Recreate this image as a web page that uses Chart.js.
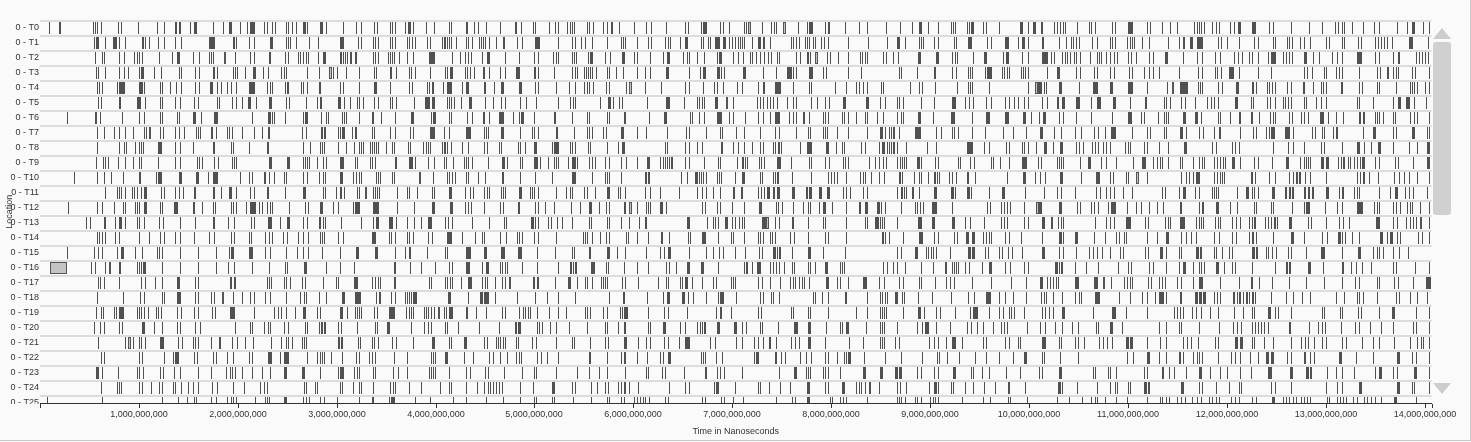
<!DOCTYPE html>
<html><head><meta charset="utf-8">
<script src="https://cdn.jsdelivr.net/npm/chart.js@4.4.1/dist/chart.umd.min.js"></script>
<style>
html,body{margin:0;padding:0;background:#fafafa;}
#wrap{position:relative;width:1471px;height:442px;overflow:hidden;background:#fafafa;}
#c{position:absolute;left:0;top:0;}
#frame{position:absolute;left:0;top:0;width:1470px;height:440px;border-right:1px solid #c8c8c8;border-bottom:1px solid #c8c8c8;pointer-events:none;}
.up{position:absolute;left:1433px;top:28px;width:0;height:0;border-left:9px solid transparent;border-right:9px solid transparent;border-bottom:11px solid #cdcdcd;}
.thumb{position:absolute;left:1433px;top:42px;width:18px;height:173px;background:#d0d0d0;border-radius:3px;}
.down{position:absolute;left:1433px;top:383px;width:0;height:0;border-left:9px solid transparent;border-right:9px solid transparent;border-top:11px solid #cdcdcd;}
</style></head>
<body>
<div id="wrap">
<canvas id="c" width="1471" height="442"></canvas>
<div class="up"></div><div class="thumb"></div><div class="down"></div>
<div id="frame"></div>
</div>
<script>
// ---- data (times in units of 1e7 ns; plain number = short event, [start, length] = longer event)
const UNIT_NS = 1e7;
const SHORT_LEN = 1;
const X_MAX = 14.07e9;
const xTickValues = [0,1e9,2e9,3e9,4e9,5e9,6e9,7e9,8e9,9e9,10e9,11e9,12e9,13e9,14e9];
const locations = ['0 - T0','0 - T1','0 - T2','0 - T3','0 - T4','0 - T5','0 - T6','0 - T7','0 - T8','0 - T9','0 - T10','0 - T11','0 - T12','0 - T13','0 - T14','0 - T15','0 - T16','0 - T17','0 - T18','0 - T19','0 - T20','0 - T21','0 - T22','0 - T23','0 - T24','0 - T25'];

const T0 = [9,19,20,54,56,58,62,79,82,99,118,125,[137,2],[141,2],152,[156,3],175,185,[191,3],202,209,[212,5],226,230,235,238,249,251,255,259,[266,3],270,
[283,3],289,306,320,325,338,341,354,356,359,369,[372,3],377,390,398,414,416,[431,2],439,443,451,465,[480,2],486,498,501,515,521,524,533,536,538,540,553,555,559,
569,573,[577,2],585,601,613,618,633,652,655,668,[670,4],688,691,697,712,714,730,739,742,744,766,776,[778,4],794,[797,2],814,828,836,
855,870,882,[889,3],898,908,921,923,925,937,939,[941,3],953,957,970,[991,3],999,[1004,3],[1012,2],1025,1028,1031,1034,1036,1049,1061,1063,1067,1084,1087,[1100,5],1119,1122,
1135,1143,1150,1167,1170,1172,1174,1177,1185,1189,1192,1203,1207,[1211,3],[1226,4],1243,1247,1265,1283,1296,1309,1312,1317,1319,1327,1338,1349,1354,1372,1382,[1387,3],1398,1404];
const T1 = [55,[57,3],66,[74,4],80,86,103,104,106,110,119,125,137,143,[171,6],[195,2],198,211,216,[233,3],249,251,253,259,272,281,
[303,4],322,325,337,339,342,354,356,359,371,373,376,379,391,394,406,408,410,412,414,416,421,431,433,437,444,446,448,450,454,461,[468,2],482,487,[501,5],524,538,541,547,551,558,
573,587,589,592,604,615,618,632,635,637,647,[652,3],668,670,675,677,[683,5],[691,3],697,700,703,706,708,710,712,720,[726,3],731,732,738,759,761,764,767,774,776,778,782,784,790,793,797,817,837,
856,[867,3],875,889,891,893,904,908,924,926,[938,4],958,962,[976,4],989,[993,3],999,[1013,2],1030,1037,1042,1045,1048,1051,1064,1069,1082,1084,1087,1099,1102,1104,1106,1114,1121,
1141,1152,[1156,2],[1163,3],[1170,6],1191,1194,1200,1212,1228,1232,1247,1249,1261,1263,1266,1274,1278,1284,1300,1303,1316,1319,1333,1336,1350,1353,1356,1359,1362,1367,[1384,4],1403];
const T2 = [56,63,65,80,85,95,98,100,103,120,133,[139,3],155,161,171,173,175,197,212,216,[232,2],248,251,261,263,266,269,271,281,
[286,3],303,304,306,308,310,[313,2],[319,2],337,339,342,352,354,356,358,363,371,377,[393,6],417,425,430,433,436,447,[452,3],470,484,500,504,519,522,524,538,540,542,554,[556,3],
571,576,[588,4],601,604,617,630,[634,3],650,654,656,664,671,685,[687,3],701,706,711,718,720,724,728,732,736,739,745,747,764,768,776,777,779,796,799,807,817,829,831,834,836,
852,855,862,868,[888,3],[906,3],922,925,927,943,[955,3],974,[977,3],993,999,[1013,6],1022,1025,1033,1036,1038,1041,1046,1048,1052,1062,1069,1071,1073,1078,1082,1086,1089,1100,1103,1108,1121,1125,
[1138,3],1156,1170,1175,1188,1193,1207,1211,1215,1222,1225,1232,1242,[1245,5],1257,1260,1263,1266,[1278,3],1287,1293,1306,1311,1316,[1332,5],1350,1354,1368,[1373,2],1391,1394,1397,1400,1403];
const T3 = [57,59,66,80,85,89,100,[102,3],115,122,141,143,157,161,[175,2],179,195,197,199,207,[215,3],225,231,244,247,249,270,282,
296,300,309,323,338,340,[354,2],360,373,375,379,394,410,412,[415,3],430,432,435,439,[448,2],454,465,470,[481,4],499,501,504,520,538,541,543,550,552,554,556,558,562,
573,575,582,[589,2],604,612,617,[633,3],656,667,[670,3],[685,3],689,692,[711,3],731,744,[755,5],761,764,[778,4],792,795,817,830,
869,871,887,[904,2],922,926,938,940,942,956,[958,5],973,975,978,980,992,994,996,999,1018,[1028,3],1048,1052,1066,1069,1082,1086,1101,1104,1116,1121,1125,1131,
1152,1171,1175,1188,1190,1194,[1202,5],1212,1232,1245,1278,1281,1286,1298,1300,1310,1313,1316,1334,1352,1355,[1362,2],1368,1371,1373,1387,1390,1404];
const T4 = [58,60,63,78,[80,6],[100,4],105,121,123,131,138,143,157,161,[172,3],179,183,189,193,198,[211,6],230,233,235,248,250,251,264,266,270,282,
283,303,306,323,[338,3],354,373,376,391,393,[396,2],407,[412,5],427,[431,3],[449,2],459,[466,3],[484,3],501,504,522,535,541,550,553,555,559,
572,575,593,612,628,652,656,670,682,685,691,705,710,726,[731,2],[743,6],761,778,780,804,815,825,828,832,836,
850,852,880,889,892,905,927,938,940,942,960,999,[1009,4],1015,1017,[1030,3],1051,[1065,5],[1082,3],[1100,5],1119,
1140,[1153,8],1171,1173,1175,1191,1195,[1209,3],1225,1227,1230,1241,1243,1246,1249,1261,1265,[1277,2],1287,1295,1297,1300,[1315,3],1334,1337,1352,1354,1371,1385,1387,1389,1392,1400,1404];
const T5 = [59,62,80,81,[98,4],106,121,123,137,142,156,160,179,181,194,198,204,[210,3],218,[232,3],249,252,269,280,
[283,2],[301,3],307,313,321,323,327,338,342,354,356,360,378,[389,5],[396,3],412,414,416,419,426,[434,3],450,458,466,470,485,491,502,524,536,539,541,
566,[574,3],579,585,588,614,[633,4],651,664,666,669,671,[683,3],701,725,728,731,735,738,741,745,755,761,764,780,786,794,798,[812,3],[835,3],
849,854,867,869,873,891,904,[922,4],935,939,943,957,962,976,980,985,989,995,999,1013,1018,[1028,2],[1033,3],[1048,4],1063,[1069,4],[1085,3],1102,[1117,2],
1137,1139,1143,1154,1158,1168,1180,1184,1187,1191,[1208,3],1224,1227,1241,1244,1249,1257,1259,1262,1265,1278,1280,1290,1295,1300,1332,1334,1348,1368,[1373,3],[1381,4],1389,1401];
const T6 = [27,56,57,61,83,100,105,121,123,139,141,[155,3],163,[176,4],214,[231,3],235,237,248,266,[268,3],
284,289,291,305,307,309,323,[336,2],345,359,[375,3],395,[397,3],414,416,432,437,[448,2],454,[464,5],478,484,[486,3],499,[520,2],538,553,555,
573,575,590,592,616,[631,3],657,659,666,671,[685,5],697,701,713,726,731,738,[743,5],757,761,764,[772,2],778,792,794,797,811,813,817,825,834,836,846,
852,867,871,873,[888,3],903,[921,4],942,[957,4],[976,4],[994,3],1002,1010,[1014,3],1030,1034,1048,1063,1084,[1100,4],1113,1116,1130,
1137,1139,1141,[1156,3],[1168,3],1174,1191,1193,1203,[1212,2],[1224,3],1233,1244,1247,1249,1263,1266,1275,1278,1282,[1294,4],1302,1310,1318,[1334,2],[1338,2],1350,1352,1354,1358,1368,1370,1385,1389,1392,1404];
const T7 = [58,65,75,80,86,94,105,107,121,124,137,141,146,158,160,162,[173,2],178,189,191,194,204,216,224,[231,2],265,269,
[284,2],[287,2],301,303,[305,3],315,[319,2],336,338,354,359,374,377,[394,5],409,414,[431,5],449,451,453,[466,3],485,497,499,504,[522,2],540,553,555,558,
569,572,[587,3],604,613,634,653,656,673,688,690,704,712,728,743,747,764,777,779,792,794,796,806,817,836,
[849,3],854,858,860,862,864,869,[885,6],906,911,922,924,928,942,956,974,984,997,[1011,3],1025,1032,1047,1053,1066,1070,1077,[1083,5],1104,1119,1122,
1137,1139,[1153,3],1159,1172,1176,1187,[1192,2],1213,1227,1230,1240,1243,[1245,4],[1259,5],1267,1286,1289,1296,1298,1307,[1310,2],1338,[1348,3],1368,1371,[1387,3],1402,1404];
const T8 = [58,80,85,87,96,100,102,104,[119,4],137,142,155,[175,2],193,195,211,[230,2],266,273,
283,285,287,301,309,317,323,325,327,334,336,338,340,342,350,356,358,372,374,387,390,392,394,406,408,410,412,416,427,433,449,452,464,466,483,485,490,499,[501,2],518,[520,5],536,538,541,554,556,
573,584,[588,4],632,634,652,656,664,669,[689,2],701,706,712,720,728,731,741,743,[746,2],749,768,[776,5],[795,3],805,811,813,830,834,848,
[851,3],856,858,860,862,864,867,876,897,906,[937,6],955,960,977,980,993,995,999,1007,[1015,3],1024,[1031,3],1048,1051,1055,1064,1067,1070,1075,1078,1082,1097,1100,1102,1116,1119,1131,
1141,[1157,3],1185,1189,1205,1208,1212,1247,1262,1267,1278,1295,1298,1317,[1332,3],1339,1346,[1353,3],1368,1384,1392,[1402,3]];
const T9 = [57,64,66,69,79,86,94,100,102,119,137,142,159,161,164,176,180,194,196,198,[232,3],[250,3],266,268,270,272,280,
286,289,[303,4],319,321,334,336,339,359,360,[373,4],379,392,398,408,411,418,429,431,433,437,453,[467,3],472,485,487,[499,5],506,514,520,522,524,534,[538,4],543,555,558,561,
571,575,587,593,604,[614,3],627,630,632,634,636,[638,2],652,656,671,686,688,705,[710,2],713,715,727,729,732,[745,4],759,778,780,794,798,812,814,817,838,844,848,
852,855,867,870,872,874,876,[887,3],891,905,908,928,930,940,944,962,964,971,980,[993,5],1009,1012,1028,1030,1032,1034,1052,[1060,3],1073,1078,1088,1105,[1114,4],1125,1129,
1132,1135,1141,1153,1155,1166,1172,1175,1177,1187,1190,1193,1196,1198,[1205,3],1213,1228,1232,1246,[1260,3],1274,1278,1280,1282,1284,[1295,3],[1300,3],1312,1315,1318,1319,1323,1325,1329,1332,1335,[1337,3],1350,1354,1370,1373,1388,[1402,3]];
const T10 = [34,58,65,72,84,[100,2],117,[119,4],[141,3],[158,3],170,[175,5],202,211,214,226,228,232,237,247,249,266,270,282,
286,288,[303,3],316,320,323,325,340,342,344,356,358,397,412,414,417,420,431,433,443,450,[467,2],485,501,518,[538,4],558,
571,573,575,587,[612,2],[615,2],648,654,[662,2],664,666,668,670,673,685,687,689,703,[710,3],728,730,741,743,[745,2],760,780,797,800,803,806,815,829,832,834,840,848,
853,[869,2],872,884,889,891,898,[904,2],907,909,919,922,926,[937,2],945,978,[994,3],1006,1011,1016,[1031,3],1053,[1068,4],1082,1085,1098,1100,1119,
1154,1159,1162,1166,[1169,4],1187,1190,1193,1195,1197,1224,1226,1229,1243,1249,1263,1267,[1270,2],[1273,2],1279,1284,1300,1332,1335,1338,1339,1344,1353,1369,1374,1379,1384,1392,1404];
const T11 = [66,78,80,82,86,93,95,98,102,[105,3],122,125,137,141,145,[156,2],[175,2],183,[191,3],198,212,216,[230,2],248,[266,3],
286,288,299,303,304,307,321,323,337,339,341,343,361,371,373,381,396,398,[414,3],430,435,438,449,452,454,466,468,470,[484,3],495,497,499,504,522,532,536,538,550,553,561,
[573,3],584,586,592,612,617,627,646,664,669,673,681,688,[701,2],[709,2],726,729,732,[735,3],[741,2],[745,3],[760,3],[775,2],[778,3],[788,3],[796,3],812,815,819,832,836,
867,[871,2],874,876,[882,2],889,[904,3],[921,3],925,[937,3],941,960,[973,3],996,1015,1028,1032,1047,1068,1072,1078,1082,1086,1095,1104,
1134,1138,1152,[1156,3],1168,1172,1185,1187,1189,1191,1210,[1219,3],1225,1228,1232,[1246,3],[1259,2],[1263,2],[1266,2],[1278,2],[1282,2],[1286,2],[1300,3],1313,[1317,2],1329,1332,1334,1354,1365,[1370,3],1380,1384,1388,1402];
const T12 = [28,58,63,75,84,86,96,98,100,[105,3],121,123,[135,5],[155,2],164,175,177,193,195,198,208,[212,6],221,224,230,233,235,252,268,271,
[283,3],296,301,316,[319,5],[337,6],361,378,[396,3],[415,3],430,433,436,449,465,468,[483,2],501,504,511,520,537,546,[555,3],565,
572,575,590,592,604,613,615,617,[627,3],633,669,672,685,688,700,712,[727,3],744,746,750,761,772,777,779,788,[792,3],801,815,[828,2],[834,3],[846,3],
850,854,871,885,887,890,893,[902,5],922,958,961,972,975,978,981,995,[1010,3],[1030,3],1049,1052,1063,1066,1070,1080,[1083,5],1099,1108,1113,1121,1129,
1136,[1153,2],1172,[1175,2],[1189,3],1203,1210,1228,1230,1245,1247,1266,1278,[1280,4],1299,1311,1317,[1332,6],1349,1352,1354,1368,1371,1375,1382,1385,1387,1395,1404];
const T13 = [47,51,[65,2],76,[80,3],86,98,100,105,120,124,142,157,[175,2],190,196,213,216,[231,4],243,[250,3],266,270,282,
283,286,288,304,325,337,[340,3],[353,4],360,371,378,385,[392,4],410,413,417,437,454,469,471,[496,3],501,504,514,517,523,528,538,555,557,
573,575,587,596,606,[612,2],[654,3],674,680,683,686,[693,3],700,703,707,710,712,[730,4],743,747,[760,2],777,792,794,815,834,836,[844,4],
849,851,853,867,[888,4],[902,3],[922,3],935,940,955,972,975,978,995,999,[1013,3],1029,1032,1034,1067,1078,1082,1086,[1098,5],1117,1120,
1138,1141,1143,[1153,5],1169,1172,1174,1176,1188,1191,1193,1205,1209,1213,1222,1225,[1228,2],1239,1242,1245,[1248,2],1251,[1263,3],1282,1285,1300,1313,1318,1324,[1351,4],1368,1372,1381,1385,1388,1391,1404];
const T14 = [58,60,63,66,76,80,100,110,121,125,137,142,156,171,176,193,196,211,213,228,232,235,246,250,261,266,271,
283,285,287,301,306,[336,4],353,355,359,371,373,377,392,396,[412,5],427,440,447,449,465,471,482,484,487,500,504,522,549,551,553,558,
566,572,575,593,595,604,615,[628,2],636,655,657,[669,4],686,699,701,712,726,728,731,738,740,743,758,762,777,794,797,815,
[851,2],854,858,873,[889,4],904,908,924,927,[936,3],[942,3],954,957,960,962,976,980,992,1013,[1030,3],1034,[1047,3],1066,1077,1088,1091,1096,1098,1119,1129,
[1139,3],1154,1159,1164,1169,1187,1192,1205,1209,1222,1225,1227,1230,1247,[1265,3],1278,1296,1301,[1312,3],1317,1320,1327,1334,[1355,3],1362,[1365,3],1372,1375,1393,1397,1404];
const T15 = [27,55,59,63,78,[82,3],96,103,118,120,123,142,160,178,191,[193,3],[211,4],228,233,249,260,266,271,
285,303,[320,3],[339,3],359,369,[373,2],391,410,412,[431,5],[449,3],[466,4],[483,4],503,521,538,540,[555,2],
[573,3],583,592,613,627,631,[635,3],656,673,681,687,691,703,713,727,730,[741,3],745,[747,2],760,[777,3],792,814,
867,871,[885,3],896,898,901,903,906,920,[938,3],[942,3],956,959,970,973,979,983,993,[1013,3],1030,1034,1048,1061,1065,1069,1074,1082,1092,1095,1117,1120,
[1132,4],1139,1152,1154,[1169,3],[1173,2],1187,1189,1195,1202,1205,[1225,4],[1230,2],1240,1242,1246,1250,1262,1265,1280,[1295,4],1317,[1333,3],1348,1352,1354,1358,1368,1374,1383];
const T16 = [52,56,66,[80,2],98,100,102,[104,3],123,142,160,178,190,196,214,232,248,250,[267,3],
289,303,317,[358,2],374,385,399,414,417,[431,4],447,[451,3],465,467,470,472,487,503,524,[536,2],539,[541,2],[557,4],
572,574,590,604,615,633,636,643,[654,3],[668,3],686,712,[714,2],720,725,[726,3],738,741,744,747,752,760,762,777,779,784,[794,3],809,811,813,
852,856,863,867,875,891,903,[915,2],922,924,926,928,935,939,952,[960,3],976,981,995,999,[1026,3],1030,[1032,2],1047,1058,1070,1090,1100,1103,1121,1125,
1139,1152,[1156,3],1166,1172,1174,1177,[1189,3],1197,1205,1208,1226,1249,[1260,2],[1263,2],[1282,3],1297,[1316,3],1326,1331,1337,1346,1368,1371,1390,1404];
const T17 = [59,61,65,80,102,106,116,123,[139,3],157,160,[192,2],[196,2],230,232,234,247,249,253,265,268,
286,299,301,[318,4],336,339,342,344,[358,2],393,395,410,412,415,417,426,[433,4],447,450,452,460,467,470,498,500,[503,2],521,[534,3],543,551,553,558,
567,569,571,573,588,592,605,625,633,635,647,649,[652,3],659,669,681,684,699,701,703,726,730,738,748,758,761,763,767,770,773,778,[795,3],806,809,817,[832,4],848,
853,869,873,889,891,905,916,920,924,942,962,982,997,[1011,3],1018,1021,1024,1027,1029,[1047,4],[1066,4],1083,1096,1099,1102,1104,1120,1123,1131,
1135,1138,1150,1154,1166,[1172,4],1193,1212,[1224,3],1233,1246,1263,1280,1298,1317,1330,1334,1352,1354,1369,1373,1388,[1401,5]];
const T18 = [58,84,101,105,123,125,[139,4],157,160,173,176,195,204,212,216,228,233,249,263,267,269,282,
289,[305,3],[319,6],340,[343,2],355,359,369,371,373,375,[377,4],[413,3],433,[445,3],[449,5],460,482,501,513,524,541,
575,[589,3],614,630,[634,3],[649,3],655,660,673,686,[688,4],704,728,731,739,741,747,782,784,791,797,[814,2],836,
849,851,854,856,[865,3],872,874,888,902,921,938,944,[957,5],970,976,984,997,1012,1015,1017,1024,1033,1047,1051,1053,[1067,5],1091,1102,1114,1119,1127,1131,
[1132,2],[1135,2],1139,[1153,2],[1168,3],[1172,3],[1176,3],1187,1190,1193,[1206,2],1210,[1212,2],1216,[1219,2],1222,[1225,3],1229,1245,1260,1267,1276,1284,1310,1319,1332,1334,1338,1352,1371,1374,1385,1392,1402];
const T19 = [57,62,64,75,77,[80,5],98,100,102,105,109,117,119,122,139,143,156,160,174,177,[192,5],216,237,241,244,249,258,[266,3],280,
283,[303,3],310,319,321,323,325,338,341,[353,6],370,373,375,377,388,390,392,395,398,409,411,[414,4],[431,2],441,451,467,470,484,488,490,493,495,503,515,524,532,551,553,556,
569,573,586,588,[590,5],615,631,635,654,684,[688,2],699,726,729,759,761,777,779,797,825,836,
849,851,853,855,873,[888,3],894,906,910,925,940,[943,5],960,970,974,980,982,985,995,1013,1016,1020,1024,[1033,3],1065,[1084,4],1098,1119,
1147,1150,1153,1156,1165,1169,1174,1183,1191,1207,1216,1225,1228,[1242,3],1249,1252,1265,1296,1298,1314,1317,1333,1336,1354,[1367,3],1391,1404];
const T20 = [55,61,65,80,83,[103,3],115,123,139,142,157,162,197,212,214,226,231,233,247,251,268,270,282,
[284,2],[287,2],301,304,321,339,341,[351,3],375,388,392,395,410,412,423,444,464,[480,2],[483,3],503,505,508,516,522,535,553,
571,573,584,[590,3],615,617,[630,3],647,652,664,667,669,[671,2],[685,3],[702,3],710,714,728,730,746,[762,4],[777,3],795,809,811,[815,3],835,
849,851,853,867,887,892,[895,4],906,920,937,941,947,954,964,972,975,978,998,1011,1016,1026,1033,1043,1050,1068,1070,[1082,3],1094,1131,
1139,1152,1154,1172,1192,1206,1210,1214,1226,1229,1232,1235,1238,1242,[1263,2],1283,1292,1296,1299,1315,1330,1334,1345,1356,1368,1388,1391,1404];
const T21 = [59,86,94,100,102,106,[121,4],140,144,155,157,160,173,181,182,194,199,207,215,234,244,249,251,255,265,267,269,
[301,2],[304,2],322,324,336,338,342,356,360,377,[396,3],414,416,[429,3],449,452,461,463,465,468,470,481,483,497,502,522,538,540,556,
571,574,[591,3],605,613,617,631,635,646,[652,5],677,683,704,710,722,726,731,[737,2],744,759,763,767,[777,3],794,818,832,
849,851,853,865,869,899,904,908,916,[922,4],932,954,957,976,980,989,991,[1013,4],1030,1032,1047,1050,1056,1071,1075,1079,1084,[1098,3],[1102,3],1119,
1132,1139,1156,1160,1164,1171,1188,1191,[1208,3],[1213,3],1226,1228,1238,1247,1265,1275,1279,1282,1288,1296,1300,1317,1321,1337,1348,1354,1369,1385,1392,1396,1398,1404];
const T22 = [62,65,100,103,125,134,[137,4],156,159,175,178,189,195,211,214,[231,4],243,[247,5],270,280,
283,285,287,294,305,320,323,333,336,339,358,371,395,397,399,[410,3],429,438,454,458,465,472,481,484,486,503,507,513,524,[555,2],
573,587,[590,3],604,614,627,630,[635,3],668,670,672,684,690,722,[724,3],[743,2],749,753,768,775,780,794,797,806,813,815,[817,3],833,
854,871,892,907,909,917,929,945,957,970,984,[995,3],1013,1015,1031,1050,1099,1105,[1119,3],1131,
1139,[1152,2],1156,1166,1170,1172,1175,1191,1204,1208,1213,1223,1232,[1240,3],[1245,3],1261,1265,[1278,2],1284,1288,[1313,3],1331,1348,[1372,3],1387,1391,1404];
const T23 = [[57,3],63,79,98,100,104,121,124,135,142,160,173,188,192,194,197,204,214,224,233,[247,3],[265,3],
283,301,[303,4],318,321,323,337,339,357,362,371,393,395,397,399,414,431,435,450,453,469,487,500,502,522,543,555,565,
573,592,613,615,629,632,651,[672,2],685,688,692,710,747,[762,3],775,777,779,792,794,797,809,[832,3],
[849,3],[865,3],[869,3],887,891,904,908,[923,3],941,943,952,960,977,991,1010,1013,[1030,3],1065,1067,1080,1082,1088,1116,1119,
[1134,3],1142,1147,1159,[1172,3],1183,1193,1200,1213,1224,[1242,4],[1264,3],[1280,3],[1284,2],1301,1310,1317,1329,1350,[1354,3],1368,1372,[1389,3],1404];
const T24 = [62,78,80,82,100,103,112,120,123,134,137,143,150,155,160,174,179,195,206,222,227,230,267,269,278,280,
303,305,316,323,325,337,354,357,359,373,385,404,414,416,431,442,449,453,455,458,461,464,467,485,498,[518,3],538,541,557,563,
571,574,584,587,590,592,596,605,636,652,656,682,[684,3],703,726,728,737,748,758,[776,3],794,797,[811,3],825,828,830,834,[838,2],848,
867,870,876,899,[904,3],908,921,923,935,943,955,966,[979,2],996,[1029,3],1033,1049,1069,1082,1087,1089,1100,1102,[1116,3],[1120,2],
[1154,3],1172,1175,1189,1202,1212,1214,1245,1249,1265,1300,1311,1317,[1334,3],[1372,3],1387,1389,1404];
const T25 = [7,63,123,140,149,156,158,173,178,189,193,195,198,217,228,230,232,[247,3],266,269,272,
283,287,300,323,[336,2],353,[355,4],379,394,418,431,451,468,485,500,502,518,520,539,557,
573,575,587,590,601,604,607,610,612,616,632,635,669,672,689,692,701,711,744,760,763,[776,3],799,801,809,812,815,836,
867,869,871,875,885,887,891,900,903,905,908,932,954,961,979,981,998,1028,1040,1054,1063,1067,1069,1077,1088,1099,1119,
1132,1135,1139,1142,1150,1154,1158,1165,1170,1174,1182,1185,1189,1192,1204,1208,1212,1226,1230,[1246,3],1257,1260,1263,1267,1270,1275,1278,1281,1284,1301,1303,1311,1314,1318,1321,1328,1332,1339,1342,1346,1350,1356,[1369,3],1391];

// highlighted (selected) events: [row, start, length]
const selectedEvents = [[0,716,3],[0,751,3],[2,186,2],[2,784,3],[3,292,3],[4,596,3],[4,1006,3],[4,1145,2],[5,694,2],[7,110,2],[10,383,2],[10,1108,3],[11,329,2],[12,596,3],[12,1007,3],[13,734,3],[13,1022,2],[13,1395,2],[16,10,17],[16,70,2],[17,474,2],[17,1075,2],[18,184,2],[19,402,2],[21,89,3]];

const rows = [T0,T1,T2,T3,T4,T5,T6,T7,T8,T9,T10,T11,T12,T13,T14,T15,T16,T17,T18,T19,T20,T21,T22,T23,T24,T25];

// ---- build library data
const eventData = [];
rows.forEach((row, r) => {
  row.forEach(item => {
    const s = Array.isArray(item) ? item[0] : item;
    const len = Array.isArray(item) ? item[1] : SHORT_LEN;
    eventData.push({x: [s * UNIT_NS, (s + len) * UNIT_NS], y: r});
  });
});
const selData = selectedEvents.map(([r, s, len]) => ({x: [s * UNIT_NS, (s + len) * UNIT_NS], y: r}));

Chart.defaults.font.family = '"Liberation Sans", Arial, Helvetica, sans-serif';
Chart.defaults.font.size = 9;
Chart.defaults.color = '#333';

const maskPlugin = {
  id: 'clipRowLabels',
  afterDraw(chart) {
    const {ctx, chartArea} = chart;
    ctx.save();
    ctx.fillStyle = '#fafafa';
    ctx.fillRect(0, chartArea.bottom + 1, chartArea.left - 1, 12);
    ctx.restore();
  }
};

new Chart(document.getElementById('c'), {
  type: 'bar',
  data: {
    datasets: [
      {label: 'events', data: eventData, backgroundColor: '#505050', borderWidth: 0, barThickness: 12, grouped: false, minBarLength: 1, inflateAmount: 0},
      {label: 'selected', data: selData, backgroundColor: '#c3c3c3', borderColor: '#555', borderWidth: 1, borderSkipped: false, barThickness: 12, grouped: false, inflateAmount: 0}
    ]
  },
  options: {
    indexAxis: 'y',
    responsive: false,
    animation: false,
    events: [],
    devicePixelRatio: 1,
    layout: {padding: {left: 0, right: 39.5, top: 20.5, bottom: 0}},
    plugins: {legend: {display: false}, tooltip: {enabled: false}},
    scales: {
      x: {
        type: 'linear', position: 'bottom', min: 0, max: X_MAX, offset: false, alignToPixels: true,
        afterBuildTicks(scale) { scale.ticks = xTickValues.concat([X_MAX]).map(v => ({value: v})); },
        afterFit(scale) { scale.height = 39; },
        border: {display: true, color: '#333', width: 1},
        grid: {drawOnChartArea: false, drawTicks: true, tickLength: 5, color: '#333'},
        ticks: {
          autoSkip: false, maxRotation: 0, minRotation: 0, padding: 1, color: '#333',
          callback: (v) => (v === 0 || v === X_MAX) ? '' : Number(v).toLocaleString('en-US')
        },
        title: {display: true, text: 'Time in Nanoseconds', color: '#333', padding: {top: 0, bottom: 4.6}}
      },
      y: {
        type: 'linear', min: -0.5, max: 25, reverse: true, offset: false, alignToPixels: true,
        afterBuildTicks(scale) { scale.ticks = locations.map((_, i) => ({value: i})); },
        afterFit(scale) { scale.width = 40; },
        border: {display: false},
        grid: {offset: true, color: '#dcdcdc', lineWidth: 2, drawTicks: false},
        ticks: {autoSkip: false, padding: 1, color: '#333', callback: (v) => locations[v]},
        title: {display: true, text: 'Location', color: '#333', padding: {top: 4, bottom: 0}}
      }
    }
  },
  plugins: [maskPlugin]
});
</script>
</body></html>
